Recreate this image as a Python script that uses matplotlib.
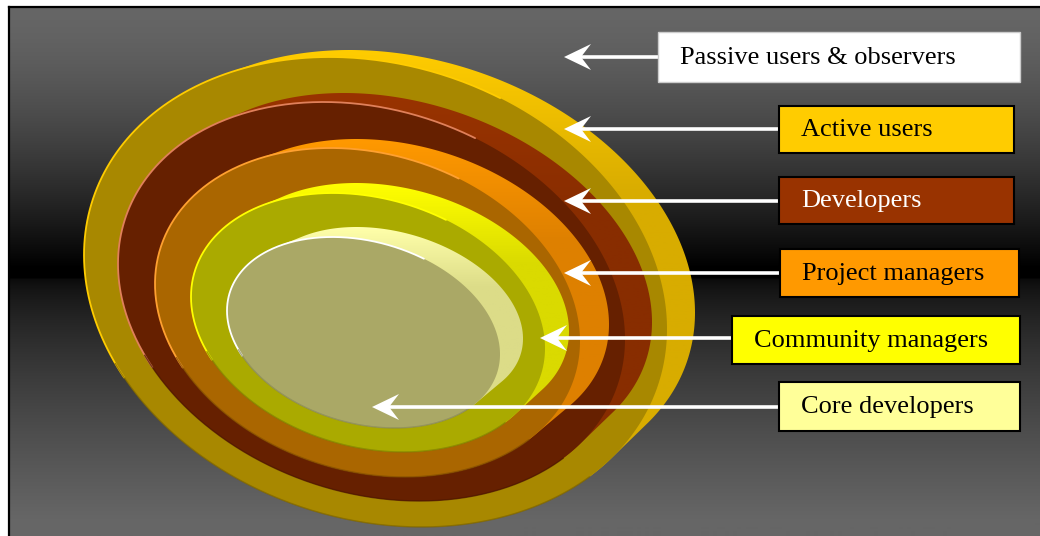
import numpy as np
import matplotlib.pyplot as plt
from matplotlib.patches import Polygon, Rectangle
from matplotlib.colors import to_rgb

# label boxes (top to bottom)
labels = ["Passive users & observers", "Active users", "Developers",
          "Project managers", "Community managers", "Core developers"]
box_colors = ["#ffffff", "#ffcc00", "#993300", "#ff9900", "#ffff00", "#ffff99"]
text_colors = ["black", "black", "white", "black", "black", "black"]
box_left = [658, 779, 779, 780, 732, 779]
box_right = [1020, 1014, 1014, 1019, 1020, 1020]
box_top = [32, 106, 177, 249, 316, 382]
box_bottom = [82, 153, 224, 297, 364, 431]
arrow_y = [57, 129, 201, 273, 338, 407]
arrow_tip = [564, 564, 564, 564, 540, 372]

# rings, outer to inner: Active users .. Core developers
ring_x0 = [84, 118, 155, 191, 227]
ring_x1 = [667, 625, 580, 545, 500]
ring_y0 = [57, 102, 148, 193, 237]
ring_y1 = [527, 501, 477, 452, 428]
ring_tilt = [18, 19, 17, 16, 16]
rim_right = [28, 27, 29, 24, 23]   # rim reach beyond face, right side
rim_up = [7, 9, 9, 10, 10]         # rim reach beyond face, top side
face_col = ["#a88800", "#662000", "#aa6600", "#aaaa00", "#aaa866"]
rim_top = ["#ffcc00", "#993300", "#ff9900", "#ffff00", "#ffffaa"]
rim_low = ["#d8ac00", "#882d00", "#de8000", "#dada00", "#dcdc88"]
hi_col = ["#ffcc00", "#e0805a", "#ffa030", "#ffff00", "#ffffff"]
sh_col = ["#7a6200", "#4a1600", "#7e4c00", "#7e7e00", "#86865a"]

W, H = 1040, 536
fig = plt.figure(figsize=(10.4, 5.36), dpi=100, facecolor="white")
ax = fig.add_axes([0, 0, 1, 1])
ax.set_axis_off()

# background gradient
ys = np.arange(8, H + 1)
g = np.zeros(len(ys))
top = ys < 268
t = (ys[top] - 8) / 260.0
g[top] = 102 * (1 - t ** 1.5)
bot = ys >= 279
t = np.clip((ys[bot] - 279) / 240.0, 0, 1)
g[bot] = 10 + 92 * t ** 0.7
bg = np.repeat((g / 255.0)[:, None, None], 3, axis=2)
ax.imshow(bg, extent=(9, W, H, 8), origin="upper", aspect="auto", zorder=0)
ax.plot([9, 9], [7, H], color="black", lw=1.6, zorder=1)
ax.plot([9, W], [7, 7], color="black", lw=1.6, zorder=1)


def ellipse_pts(cx, cy, w2, h2, tilt, n=500):
    th = np.radians(tilt)
    c, s = np.cos(th) ** 2, np.sin(th) ** 2
    a = np.sqrt((w2 ** 2 * c - h2 ** 2 * s) / (c - s))
    b = np.sqrt((h2 ** 2 * c - w2 ** 2 * s) / (c - s))
    tt = np.linspace(0, 2 * np.pi, n)
    lx, ly = a * np.cos(tt), b * np.sin(tt)
    x = cx + lx * np.cos(th) - ly * np.sin(th)
    y = cy + lx * np.sin(th) + ly * np.cos(th)
    nlx, nly = np.cos(tt) / a, np.sin(tt) / b
    nx = nlx * np.cos(th) - nly * np.sin(th)
    ny = nlx * np.sin(th) + nly * np.cos(th)
    nn = np.hypot(nx, ny)
    return x, y, nx / nn, ny / nn


def convex_hull(pts):
    pts = sorted(set(map(tuple, np.round(pts, 3))))

    def cross(o, a, b):
        return (a[0] - o[0]) * (b[1] - o[1]) - (a[1] - o[1]) * (b[0] - o[0])
    lower, upper = [], []
    for p in pts:
        while len(lower) >= 2 and cross(lower[-2], lower[-1], p) <= 0:
            lower.pop()
        lower.append(p)
    for p in reversed(pts):
        while len(upper) >= 2 and cross(upper[-2], upper[-1], p) <= 0:
            upper.pop()
        upper.append(p)
    return np.array(lower[:-1] + upper[:-1])


for i in range(len(face_col)):
    z = 2 + i * 3
    cx = (ring_x0[i] + ring_x1[i]) / 2
    cy = (ring_y0[i] + ring_y1[i]) / 2
    w2 = (ring_x1[i] - ring_x0[i]) / 2
    h2 = (ring_y1[i] - ring_y0[i]) / 2
    x, y, nx, ny = ellipse_pts(cx, cy, w2, h2, ring_tilt[i])
    # back face: a bit narrower/shorter, pushed up and to the right
    kw, kh = 4.0, 0.07 * h2
    bx, by, _, _ = ellipse_pts(cx + rim_right[i] + kw, cy - rim_up[i] - kh,
                               w2 - kw, h2 - kh, ring_tilt[i])
    hp = convex_hull(np.column_stack([np.r_[x, bx], np.r_[y, by]]))
    hull = Polygon(hp, closed=True, transform=ax.transData)
    # rim with vertical gradient
    y0, y1 = hp[:, 1].min(), hp[:, 1].max()
    rows = np.linspace(0, 1, 200)
    f = np.clip(rows / 0.3, 0, 1)[:, None]
    col = (1 - f) * np.array(to_rgb(rim_top[i])) + f * np.array(to_rgb(rim_low[i]))
    img = ax.imshow(col[:, None, :], extent=(hp[:, 0].min(), hp[:, 0].max(), y1, y0),
                    origin="upper", aspect="auto", zorder=z)
    img.set_clip_path(hull)
    # face
    ax.add_patch(Polygon(np.column_stack([x, y]), closed=True,
                         facecolor=face_col[i], edgecolor="none", zorder=z + 1))
    hi = (-0.75 * nx - 0.66 * ny) > 0.25
    sh = (ny > 0.5) & (nx < 0.6)
    ax.plot(np.where(hi, x, np.nan), np.where(hi, y, np.nan),
            color=hi_col[i], lw=1.3, zorder=z + 2, solid_capstyle="round")
    ax.plot(np.where(sh, x, np.nan), np.where(sh, y, np.nan),
            color=sh_col[i], lw=1.0, alpha=0.7, zorder=z + 2)

# labels with arrows
for i, lab in enumerate(labels):
    edge = "#cccccc" if i == 0 else "black"
    ax.add_patch(Rectangle((box_left[i], box_top[i]),
                           box_right[i] - box_left[i],
                           box_bottom[i] - box_top[i],
                           facecolor=box_colors[i], edgecolor=edge,
                           lw=1.0 if i == 0 else 1.5, zorder=30))
    ax.text(box_left[i] + 22, (box_top[i] + box_bottom[i]) / 2 + 1, lab,
            family="Liberation Serif", fontsize=19, color=text_colors[i],
            va="center", ha="left", zorder=31)
    tx, ay = arrow_tip[i], arrow_y[i]
    ax.plot([tx + 15, box_left[i]], [ay, ay], color="white", lw=2.6,
            solid_capstyle="butt", zorder=29)
    ax.add_patch(Polygon([[tx, ay], [tx + 27, ay - 13], [tx + 17, ay],
                          [tx + 27, ay + 13]], closed=True,
                         facecolor="white", edgecolor="none", zorder=29))

ax.set_xlim(0, W)
ax.set_ylim(H, 0)
fig.savefig("out.png", dpi=100, facecolor="white")
